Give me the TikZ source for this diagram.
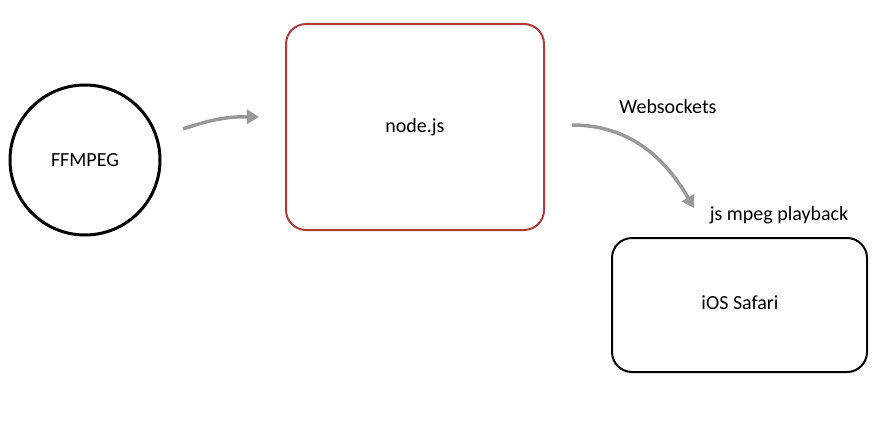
\documentclass[tikz,border=0pt]{standalone}
\usepackage{fontspec}
\setmainfont{Carlito}
\usetikzlibrary{arrows.meta}
\definecolor{boxred}{HTML}{B23A3A}
\definecolor{arrowgray}{HTML}{999999}
\tikzset{
  lbl/.style={font=\fontsize{20}{24}\selectfont, text=black},
  roundbox/.style={draw, rounded corners=20pt, line width=2pt},
  flow/.style={draw=arrowgray, line width=3.5pt, -{Triangle[length=12pt,width=14pt]}}
}
\begin{document}
\begin{tikzpicture}[x=1pt,y=-1pt]
\useasboundingbox[fill=white] (0,0) rectangle (883,436);
\node[circle, draw=black, line width=3pt, minimum size=150pt, inner sep=0pt, lbl] (ffmpeg) at (85,160) {FFMPEG};
\node[roundbox, draw=boxred, minimum width=258pt, minimum height=206pt, lbl] (node) at (415,127) {};
\node[lbl] (nodelabel) at (415,127) {node.js};
\node[roundbox, draw=black, minimum width=255pt, minimum height=134pt] (ios) at (739.5,305) {};
\node[lbl] (ioslabel) at (740,303) {iOS Safari};
\node[lbl] (ws) at (668,107) {Websockets};
\node[lbl] (jsm) at (779,215) {js mpeg playback};
\coordinate (a1s) at (183,129);
\coordinate (a1e) at (259,117);
\coordinate (a2s) at (572,125);
\coordinate (a2e) at (694,208);
\draw[flow] (a1s) to[bend left=10] (a1e);
\draw[flow] (a2s) to[out=0, in=120] (a2e);
\end{tikzpicture}
\end{document}
